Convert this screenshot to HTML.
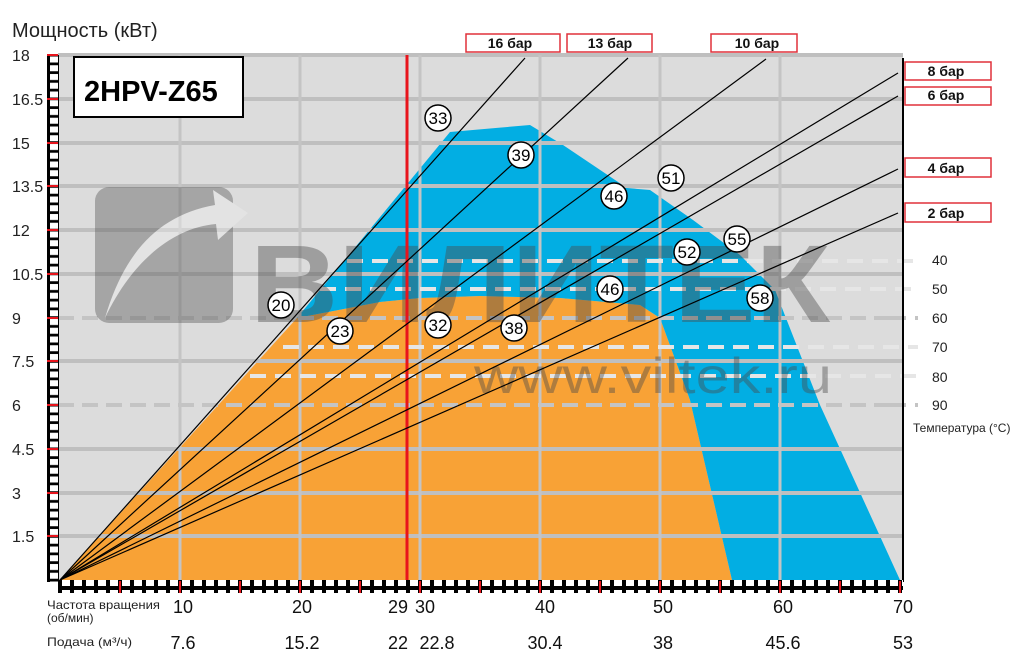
<!DOCTYPE html>
<html><head><meta charset="utf-8"><style>
body{margin:0;background:#fff;width:1024px;height:670px;overflow:hidden}
svg{display:block}
text{font-family:"Liberation Sans","DejaVu Sans",sans-serif}
</style></head><body>
<svg width="1024" height="670" viewBox="0 0 1024 670" xmlns="http://www.w3.org/2000/svg">
<defs>
<pattern id="vl" x="0" y="55" width="12" height="8.75" patternUnits="userSpaceOnUse"><rect width="12" height="8.75" fill="#000"/><rect x="2" y="1.5" width="8" height="6" fill="#fff"/></pattern>
<pattern id="hl" x="60" y="0" width="12" height="12" patternUnits="userSpaceOnUse"><rect width="12" height="12" fill="#000"/><rect x="2" y="2" width="8" height="8" fill="#fff"/></pattern>
</defs>
<text x="12" y="37" font-size="20" fill="#222">Мощность (кВт)</text>
<!-- plot bg -->
<rect x="58" y="55" width="845" height="525" fill="#dcdcdc"/>
<!-- orange -->
<polygon points="60,580 297,318 380,302 420,298 480,296 560,298 640,305 660,318 690,400 732,580" fill="#f8a236"/>
<!-- blue -->
<polygon points="297,318 450,132 530,125 563,145 627,188 650,190 693,220 740,255 775,290 820,405 900,580 732,580 690,400 660,318 640,305 560,298 480,296 420,298 380,302" fill="#02aee3"/>
<!-- grid -->
<g stroke="#bfbfbf" stroke-width="4">
<line x1="58" y1="55" x2="903" y2="55"/><line x1="58" y1="99" x2="903" y2="99"/><line x1="58" y1="143" x2="903" y2="143"/><line x1="58" y1="186" x2="903" y2="186"/><line x1="58" y1="230" x2="903" y2="230"/><line x1="58" y1="274" x2="903" y2="274"/><line x1="58" y1="318" x2="903" y2="318" stroke-dasharray="16 8" stroke="#c4c4c4"/><line x1="58" y1="361" x2="903" y2="361"/><line x1="58" y1="405" x2="903" y2="405" stroke-dasharray="16 8" stroke="#c4c4c4"/><line x1="58" y1="449" x2="903" y2="449"/><line x1="58" y1="493" x2="903" y2="493"/><line x1="58" y1="536" x2="903" y2="536"/>
</g>
<g stroke="#c4c4c4" stroke-width="3">
<line x1="180" y1="55" x2="180" y2="580"/><line x1="300" y1="55" x2="300" y2="580"/><line x1="420" y1="55" x2="420" y2="580"/><line x1="540" y1="55" x2="540" y2="580"/><line x1="660" y1="55" x2="660" y2="580"/><line x1="780" y1="55" x2="780" y2="580"/>
</g>
<!-- temp dashes -->
<g stroke="#e6e6e6" stroke-width="4" stroke-dasharray="16 9">
<line x1="347" y1="261" x2="918" y2="261"/><line x1="320" y1="289" x2="918" y2="289"/><line x1="283" y1="347" x2="918" y2="347"/><line x1="250" y1="376" x2="918" y2="376"/>
<line x1="890" y1="318" x2="918" y2="318" stroke="#c4c4c4"/><line x1="890" y1="405" x2="918" y2="405" stroke="#c4c4c4"/>
</g>
<!-- watermark -->
<g opacity="0.42">
<rect x="95" y="187" width="138" height="136" rx="14" fill="#5a5a5a"/>
<path d="M105 318 C125 250 160 215 215 205 L213 190 L248 213 L218 240 L216 224 C170 228 130 265 105 318Z" fill="#eee"/>
<text x="250" y="322" font-size="110" font-weight="bold" fill="#4a4a4a" textLength="580" lengthAdjust="spacingAndGlyphs">ВИЛИТЕК</text>
<text x="474" y="393" font-size="50" fill="#4a4a4a" textLength="358" lengthAdjust="spacingAndGlyphs">www.viltek.ru</text>
</g>
<!-- red line -->
<line x1="407" y1="55" x2="407" y2="582" stroke="#e8141c" stroke-width="3"/>
<!-- bar lines -->
<g stroke="#000" stroke-width="1.2">
<line x1="60" y1="580" x2="525" y2="58"/><line x1="60" y1="580" x2="628" y2="58"/><line x1="60" y1="580" x2="766" y2="59"/><line x1="60" y1="580" x2="898" y2="73"/><line x1="60" y1="580" x2="898" y2="96"/><line x1="60" y1="580" x2="898" y2="169"/><line x1="60" y1="580" x2="898" y2="213"/>
</g>
<!-- circles -->
<g font-size="17" text-anchor="middle" fill="#000">
<g stroke="#000" stroke-width="1.5" fill="#fff">
<circle cx="438" cy="118" r="13"/><circle cx="521" cy="155" r="13"/><circle cx="614" cy="196" r="13"/><circle cx="671" cy="178" r="13"/><circle cx="737" cy="239" r="13"/><circle cx="687" cy="252" r="13"/><circle cx="610" cy="289" r="13"/><circle cx="760" cy="298" r="13"/><circle cx="281" cy="305" r="13"/><circle cx="340" cy="331" r="13"/><circle cx="438" cy="325" r="13"/><circle cx="514" cy="328" r="13"/>
</g>
<text x="438" y="124">33</text><text x="521" y="161">39</text><text x="614" y="202">46</text><text x="671" y="184">51</text><text x="737" y="245">55</text><text x="687" y="258">52</text><text x="610" y="295">46</text><text x="760" y="304">58</text><text x="281" y="311">20</text><text x="340" y="337">23</text><text x="438" y="331">32</text><text x="514" y="334">38</text>
</g>
<!-- right axis -->
<line x1="903" y1="58" x2="903" y2="582" stroke="#000" stroke-width="2"/>
<!-- ladders -->
<rect x="47" y="55" width="12" height="527" fill="url(#vl)"/>
<rect x="58" y="580" width="845" height="13" fill="url(#hl)"/>
<g stroke="#e8141c" stroke-width="2">
<line x1="47" y1="55" x2="58" y2="55"/><line x1="47" y1="99" x2="58" y2="99"/><line x1="47" y1="143" x2="58" y2="143"/><line x1="47" y1="186" x2="58" y2="186"/><line x1="47" y1="230" x2="58" y2="230"/><line x1="47" y1="274" x2="58" y2="274"/><line x1="47" y1="318" x2="58" y2="318"/><line x1="47" y1="361" x2="58" y2="361"/><line x1="47" y1="405" x2="58" y2="405"/><line x1="47" y1="449" x2="58" y2="449"/><line x1="47" y1="493" x2="58" y2="493"/><line x1="47" y1="536" x2="58" y2="536"/>
<line x1="120" y1="581" x2="120" y2="593"/><line x1="180" y1="581" x2="180" y2="593"/><line x1="240" y1="581" x2="240" y2="593"/><line x1="300" y1="581" x2="300" y2="593"/><line x1="360" y1="581" x2="360" y2="593"/><line x1="420" y1="581" x2="420" y2="593"/><line x1="480" y1="581" x2="480" y2="593"/><line x1="540" y1="581" x2="540" y2="593"/><line x1="600" y1="581" x2="600" y2="593"/><line x1="660" y1="581" x2="660" y2="593"/><line x1="720" y1="581" x2="720" y2="593"/><line x1="780" y1="581" x2="780" y2="593"/><line x1="840" y1="581" x2="840" y2="593"/><line x1="900" y1="581" x2="900" y2="593"/>
</g>
<!-- y labels -->
<g font-size="16" fill="#222">
<text x="12" y="61">18</text><text x="12" y="105">16.5</text><text x="12" y="149">15</text><text x="12" y="192">13.5</text><text x="12" y="236">12</text><text x="12" y="280">10.5</text><text x="12" y="324">9</text><text x="12" y="367">7.5</text><text x="12" y="411">6</text><text x="12" y="455">4.5</text><text x="12" y="499">3</text><text x="12" y="542">1.5</text>
</g>
<!-- model box -->
<rect x="74" y="57" width="169" height="60" fill="#fff" stroke="#000" stroke-width="2"/>
<text x="84" y="101" font-size="29" font-weight="bold" fill="#000">2HPV-Z65</text>
<!-- bar label boxes -->
<g fill="#fff" stroke="#e0303a" stroke-width="1.5">
<rect x="466" y="34" width="94" height="18"/><rect x="567" y="34" width="85" height="18"/><rect x="711" y="34" width="86" height="18"/>
<rect x="905" y="62" width="86" height="18"/><rect x="905" y="87" width="86" height="18"/><rect x="905" y="158" width="86" height="19"/><rect x="905" y="203" width="86" height="19"/>
</g>
<g font-size="14" font-weight="bold" fill="#111" text-anchor="middle">
<text x="510" y="48">16 бар</text><text x="610" y="48">13 бар</text><text x="757" y="48">10 бар</text>
<text x="946" y="76">8 бар</text><text x="946" y="100">6 бар</text><text x="946" y="173">4 бар</text><text x="946" y="218">2 бар</text>
</g>
<!-- temperatures -->
<g font-size="14" fill="#222">
<text x="932" y="265">40</text><text x="932" y="294">50</text><text x="932" y="323">60</text><text x="932" y="352">70</text><text x="932" y="382">80</text><text x="932" y="410">90</text>
<text x="913" y="432" font-size="12">Температура (°C)</text>
</g>
<!-- bottom labels -->
<g font-size="12" fill="#222">
<text x="47" y="609" textLength="113" lengthAdjust="spacingAndGlyphs">Частота вращения</text>
<text x="47" y="622">(об/мин)</text>
<text x="47" y="646" textLength="85" lengthAdjust="spacingAndGlyphs">Подача (м³/ч)</text>
</g>
<g font-size="18" fill="#111" text-anchor="middle">
<text x="183" y="613">10</text><text x="302" y="613">20</text><text x="398" y="613">29</text><text x="425" y="613">30</text><text x="545" y="613">40</text><text x="663" y="613">50</text><text x="783" y="613">60</text><text x="903" y="613">70</text>
<text x="183" y="649">7.6</text><text x="302" y="649">15.2</text><text x="398" y="649">22</text><text x="437" y="649">22.8</text><text x="545" y="649">30.4</text><text x="663" y="649">38</text><text x="783" y="649">45.6</text><text x="903" y="649">53</text>
</g>
</svg>
</body></html>
